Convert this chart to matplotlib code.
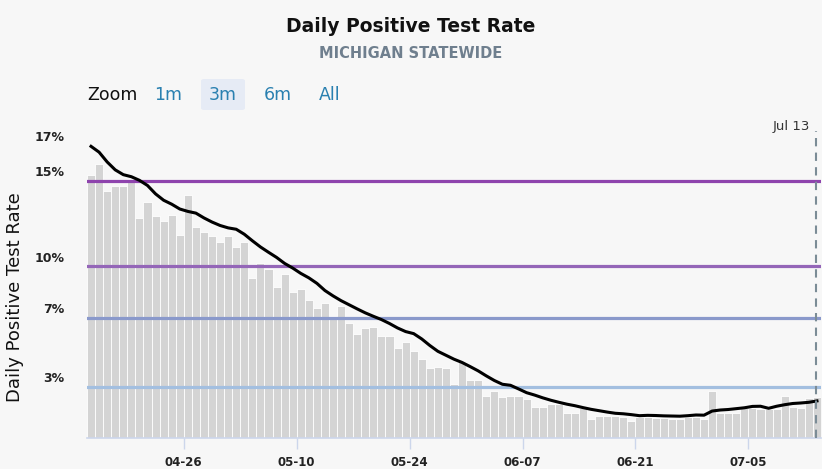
import numpy as np
import pandas as pd
import matplotlib
matplotlib.use("Agg")
from matplotlib import pyplot as plt
import matplotlib.dates as mdates
from matplotlib.patches import FancyBboxPatch

# daily positive test rate (%), Apr 14 - Jul 13 2021
start = "2021-04-14"
daily_rate = [
    15.34, 15.98, 14.36, 14.69, 14.69, 15.08, 12.81, 13.72, 12.91, 12.65,
    13.00, 11.82, 14.17, 12.28, 12.01, 11.74, 11.39, 11.74, 11.12, 11.39,
    9.31, 10.22, 9.84, 8.77, 9.54, 8.50, 8.67, 8.05, 7.60, 7.85,
    7.13, 7.67, 6.69, 6.06, 6.41, 6.49, 5.97, 5.97, 5.24, 5.59,
    5.05, 4.61, 4.08, 4.16, 4.08, 3.17, 4.40, 3.38, 3.38, 2.46,
    2.72, 2.37, 2.47, 2.47, 2.27, 1.83, 1.83, 1.96, 1.96, 1.46,
    1.46, 1.75, 1.11, 1.30, 1.30, 1.30, 1.25, 1.01, 1.20, 1.20,
    1.15, 1.15, 1.13, 1.13, 1.20, 1.20, 1.11, 2.74, 1.48, 1.48,
    1.48, 1.72, 1.72, 1.67, 1.67, 1.70, 2.45, 1.83, 1.77, 2.33,
    2.40,
]
# 7-day average (%)
avg_rate = [
    16.99, 16.65, 16.08, 15.62, 15.34, 15.22, 15.01, 14.71, 14.22, 13.85,
    13.62, 13.34, 13.20, 13.10, 12.82, 12.58, 12.38, 12.24, 12.16, 11.87,
    11.49, 11.13, 10.82, 10.52, 10.17, 9.90, 9.59, 9.33, 9.01, 8.59,
    8.28, 8.00, 7.76, 7.52, 7.29, 7.09, 6.90, 6.67, 6.41, 6.20,
    6.08, 5.77, 5.39, 5.05, 4.82, 4.59, 4.40, 4.16, 3.91, 3.62,
    3.35, 3.13, 3.07, 2.86, 2.64, 2.50, 2.34, 2.20, 2.08, 1.97,
    1.88, 1.77, 1.67, 1.59, 1.51, 1.44, 1.41, 1.36, 1.30, 1.32,
    1.31, 1.29, 1.28, 1.27, 1.30, 1.34, 1.33, 1.57, 1.63, 1.66,
    1.71, 1.76, 1.84, 1.85, 1.73, 1.85, 1.94, 2.01, 2.04, 2.08,
    2.16,
]
threshold_levels = [15, 10, 7, 3]
threshold_colors = ["#8e44ad", "#9466b8", "#8a99cb", "#a3bfe0"]
ytick_values = [3, 7, 10, 15, 17]
xtick_dates = ["2021-04-26", "2021-05-10", "2021-05-24", "2021-06-07", "2021-06-21", "2021-07-05"]
zoom_buttons = ["1m", "3m", "6m", "All"]

dates = pd.date_range(start, periods=len(daily_rate), freq="D")
bg = "#f7f7f7"

fig = plt.figure(figsize=(8.22, 4.69), dpi=100, facecolor=bg)
ax = fig.add_axes([87 / 822, 31 / 469, 734 / 822, 309 / 469])
ax.set_facecolor(bg)

ax.bar(dates, daily_rate, width=1.0, align="edge", color="#d4d4d4",
       edgecolor="white", linewidth=0.6, zorder=1)
for lvl, c in zip(threshold_levels, threshold_colors):
    ax.axhline(lvl, color=c, lw=2.3, zorder=2)
ax.plot(dates + pd.Timedelta(hours=12), avg_rate, color="black", lw=2.2,
        zorder=3, solid_joinstyle="round")

marker = pd.Timestamp("2021-07-13 09:00")
ax.axvline(marker, color="#7b8c96", lw=1.5, ls=(0, (4, 3)), ymax=0.995, zorder=4)
ax.text(marker - pd.Timedelta(hours=18), 17.75, "Jul 13", ha="right", va="bottom",
        fontsize=9.5, color="#333333")

ax.set_xlim(dates[0], dates[-1] + pd.Timedelta(days=1))
ax.set_ylim(0, 18)

for s in ["top", "right", "left"]:
    ax.spines[s].set_visible(False)
ax.spines["bottom"].set_color("#ccd6eb")
ax.spines["bottom"].set_linewidth(1.2)

ax.set_xticks(pd.to_datetime(xtick_dates))
ax.xaxis.set_major_formatter(mdates.DateFormatter("%m-%d"))
ax.tick_params(axis="x", length=8, width=1, color="#ccd6eb", pad=5,
               labelsize=8.5, labelcolor="#222222")
for lab in ax.get_xticklabels():
    lab.set_fontweight("semibold")

ax.set_yticks([])
for v in ytick_values:
    ax.annotate(f"{v}%", xy=(0, v), xycoords=("axes fraction", "data"),
                xytext=(-16, 6), textcoords="offset points", ha="right",
                va="center", fontsize=9, fontweight="semibold", color="#222222")

fig.text(15 / 822, 1 - 297 / 469, "Daily Positive Test Rate", rotation=90,
         ha="center", va="center", fontsize=13, color="#111111")

fig.text(0.5, 1 - 27 / 469, "Daily Positive Test Rate", ha="center", va="center",
         fontsize=13.5, fontweight="bold", color="#111111")
fig.text(0.5, 1 - 53 / 469, "MICHIGAN STATEWIDE", ha="center", va="center",
         fontsize=10.5, fontweight="bold", color="#6f7f8e")

# zoom selector
box = FancyBboxPatch((201 / 822, 1 - 110 / 469), 44 / 822, 31 / 469,
                     boxstyle="round,pad=0,rounding_size=0.004",
                     transform=fig.transFigure, facecolor="#e6ebf5",
                     edgecolor="none")
fig.patches.append(box)
fig.text(87 / 822, 1 - 95 / 469, "Zoom", ha="left", va="center",
         fontsize=12.5, color="#111111")
for label, xc in zip(zoom_buttons, [168, 223, 278, 330]):
    fig.text(xc / 822, 1 - 95 / 469, label, ha="center", va="center",
             fontsize=12.5, color="#2a80b0")

fig.savefig("out.png", dpi=100, facecolor=bg)
